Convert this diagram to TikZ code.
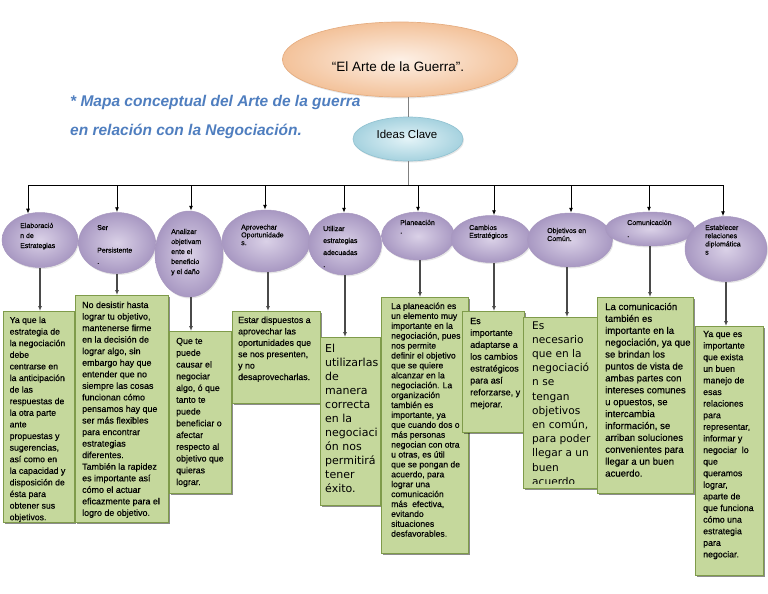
\documentclass[tikz,border=0pt]{standalone}
\usepackage{fontspec}
\setmainfont{Liberation Sans}
\newfontfamily\dejavu{DejaVu Sans}
\newfontfamily\boxf[FakeBold=0.45]{Liberation Sans}
\usetikzlibrary{shapes.geometric,arrows.meta,shadows}
\definecolor{pin}{HTML}{DAD1E7}
\definecolor{pout}{HTML}{A898C2}
\definecolor{pline}{HTML}{A898C0}
\definecolor{orin}{HTML}{FDF0E6}
\definecolor{orout}{HTML}{F3C29A}
\definecolor{orline}{HTML}{E6AE82}
\definecolor{blin}{HTML}{E3F3F7}
\definecolor{blout}{HTML}{A6D2DF}
\definecolor{blline}{HTML}{93C3D2}
\definecolor{gfill}{HTML}{C5D89C}
\definecolor{gedge}{HTML}{7F9B4A}
\definecolor{tblue}{HTML}{4F7EBF}
\definecolor{cgray}{HTML}{4A4A4A}
\newcommand\mytext[3]{\parbox[t]{200pt}{\boxf\fontsize{#1}{#2}\selectfont #3}}
\begin{document}
\begin{tikzpicture}[x=1pt,y=-1pt,
  idea/.style={ellipse, draw=pline, line width=0.5pt, inner color=pin, outer color=pout, inner sep=0pt,
    drop shadow={shadow xshift=1pt, shadow yshift=-1.5pt, opacity=0.2}},
  gbox/.style={rectangle, draw=gedge, line width=0.7pt, fill=gfill, inner sep=0pt, anchor=north west,
    drop shadow={shadow xshift=2pt, shadow yshift=-2pt, opacity=0.45, fill=black}},
  etext/.style={anchor=base west, inner sep=0pt},
  btext/.style={anchor=base west, inner sep=0pt},
  arr/.style={-{Latex[length=5pt,width=4pt]}, line width=0.9pt, draw=black},
  arrg/.style={-{Latex[length=5pt,width=4pt]}, line width=1.2pt, draw=cgray},
  hl/.style={line width=0.9pt, draw=black},
  tl/.style={line width=0.6pt, draw=gray}
]
\useasboundingbox (0,0) rectangle (768,594);

% title
\node[anchor=base west, inner sep=0pt, text=tblue, font=\bfseries\itshape\fontsize{15.5}{18}\selectfont] (title1) at (70,106) {* Mapa conceptual del Arte de la guerra};
\node[anchor=base west, inner sep=0pt, text=tblue, font=\bfseries\itshape\fontsize{15.5}{18}\selectfont] (title2) at (70,135) {en relación con la Negociación.};

% top ellipses
\node[ellipse, draw=orline, line width=0.7pt, inner color=orin, outer color=orout, minimum width=235pt, minimum height=75pt, inner sep=0pt,
  drop shadow={shadow xshift=1pt, shadow yshift=-1.5pt, opacity=0.2}] (top) at (400,59.5) {};
\node[inner sep=0pt, font=\fontsize{13.5}{16}\selectfont] (topt) at (398,67) {“El Arte de la Guerra”.};
\node[ellipse, draw=blline, line width=0.7pt, inner color=blin, outer color=blout, minimum width=110pt, minimum height=44pt, inner sep=0pt,
  drop shadow={shadow xshift=1pt, shadow yshift=-1.5pt, opacity=0.2}] (ideas) at (408,139) {};
\node[inner sep=0pt, font=\fontsize{11.5}{14}\selectfont] (ideast) at (407,134) {Ideas Clave};

% purple ellipses
\node[idea, minimum width=76pt, minimum height=55pt] (e1) at (40,240) {};
\node[idea, minimum width=77pt, minimum height=61pt] (e2) at (117,243) {};
\node[idea, minimum width=68pt, minimum height=86pt] (e3) at (189,254) {};
\node[idea, minimum width=88pt, minimum height=62pt] (e4) at (266,241) {};
\node[idea, minimum width=73pt, minimum height=62pt] (e5) at (345,244) {};
\node[idea, minimum width=73pt, minimum height=48pt] (e6) at (418,236) {};
\node[idea, minimum width=80pt, minimum height=47pt] (e7) at (491,239) {};
\node[idea, minimum width=85pt, minimum height=54pt] (e8) at (570,240) {};
\node[idea, minimum width=89pt, minimum height=34pt] (e9) at (650,229) {};
\node[idea, minimum width=82pt, minimum height=65pt] (e10) at (726,249) {};

% ellipse texts
\node[etext] (e1t) at (20,228) {\mytext{7}{10}{Elaboració\\n de\\Estrategias}};
\node[etext] (e2t) at (97,230) {\mytext{7}{11.3}{Ser\\\mbox{}\\Persistente\\.}};
\node[etext] (e3t) at (171,234) {\mytext{7}{10}{Analizar\\objetivam\\ente el\\beneficio\\y el daño}};
\node[etext] (e4t) at (241,229.5) {\mytext{7}{7.8}{Aprovechar\\Oportunidade\\s.}};
\node[etext] (e5t) at (323,231) {\mytext{7}{12}{Utilizar\\estrategias\\adecuadas\\.}};
\node[etext] (e6t) at (400,225) {\mytext{7}{8.5}{Planeación\\.}};
\node[etext] (e7t) at (469,230) {\mytext{7}{7.8}{Cambios\\Estratégicos}};
\node[etext] (e8t) at (547,233) {\mytext{7}{8}{Objetivos en\\Común.}};
\node[etext] (e9t) at (627,225) {\mytext{7}{12}{Comunicación\\.}};
\node[etext] (e10t) at (705,230) {\mytext{7}{8.2}{Establecer\\relaciones\\diplomática\\s}};

% main connectors
\coordinate (h1) at (28,185);
\coordinate (h2) at (117,185);
\coordinate (h3) at (191,185);
\coordinate (h4) at (265,185);
\coordinate (h5) at (344,185);
\coordinate (h6) at (418,185);
\coordinate (h7) at (494,185);
\coordinate (h8) at (571,185);
\coordinate (h9) at (649,185);
\coordinate (h10) at (723,185);
\draw[tl] (ideas.north |- top.south) -- (ideas.north);
\draw[tl] (ideas.south) -- (ideas.south |- h1);
\draw[hl] (h1) -- (h10);
\draw[arr] (h1) -- (h1 |- e1.115);
\draw[arr] (h2) -- (h2 |- e2.north);
\draw[arr] (h3) -- (h3 |- e3.north);
\draw[arr] (h4) -- (h4 |- e4.north);
\draw[arr] (h5) -- (h5 |- e5.north);
\draw[arr] (h6) -- (h6 |- e6.north);
\draw[arr] (h7) -- (h7 |- e7.north);
\draw[arr] (h8) -- (h8 |- e8.north);
\draw[arr] (h9) -- (h9 |- e9.north);
\draw[arr] (h10) -- (h10 |- e10.north);

% boxes
\node[gbox, minimum width=71pt, minimum height=211pt] (b1) at (3,311) {};
\node[gbox, minimum width=93pt, minimum height=227pt] (b2) at (75,295) {};
\node[gbox, minimum width=62pt, minimum height=162pt] (b3) at (169,331) {};
\node[gbox, minimum width=88pt, minimum height=92pt] (b4) at (232,311) {};
\node[gbox, minimum width=60pt, minimum height=168pt] (b5) at (320,337) {};
\node[gbox, minimum width=87pt, minimum height=256pt] (b6) at (381,297) {};
\node[gbox, minimum width=62pt, minimum height=121pt] (b7) at (462,311) {};
\node[gbox, minimum width=75pt, minimum height=171pt] (b8) at (523,317) {};
\node[gbox, minimum width=96pt, minimum height=196pt] (b9) at (597,297) {};
\node[gbox, minimum width=68pt, minimum height=249pt] (b10) at (695,326) {};

% ellipse -> box connectors
\draw[arrg] (e1.south) -- (e1.south |- b1.north);
\draw[arrg] (e2.south) -- (e2.south |- b2.north);
\draw[arrg] ([xshift=2pt]e3.south) -- ([xshift=2pt]e3.south |- b3.north);
\draw[arrg] ([xshift=2pt]e4.south) -- ([xshift=2pt]e4.south |- b4.north);
\draw[arrg] (e5.south) -- (e5.south |- b5.north);
\draw[arrg] ([xshift=2pt]e6.south) -- ([xshift=2pt]e6.south |- b6.north);
\draw[arrg] ([xshift=3pt]e7.south) -- ([xshift=3pt]e7.south |- b7.north);
\draw[arrg] ([xshift=-3pt]e8.south) -- ([xshift=-3pt]e8.south |- b8.north);
\draw[arrg] (e9.south) -- (e9.south |- b9.north);
\draw[arrg] (e10.south) -- (e10.south |- b10.north);

% box texts
\node[btext] (t1) at (9.5,323) {\mytext{8.7}{11.6}{Ya que la\\estrategia de\\la negociación\\debe\\centrarse en\\la anticipación\\de las\\respuestas de\\la otra parte\\ante\\propuestas y\\sugerencias,\\así como en\\la capacidad y\\disposición de\\ésta para\\obtener sus\\objetivos.}};
\node[btext] (t2) at (82,308) {\mytext{8.9}{11.55}{No desistir hasta\\lograr tu objetivo,\\mantenerse firme\\en la decisión de\\lograr algo, sin\\embargo hay que\\entender que no\\siempre las cosas\\funcionan cómo\\pensamos hay que\\ser más flexibles\\para encontrar\\estrategias\\diferentes.\\También la rapidez\\es importante así\\cómo el actuar\\eficazmente para el\\logro de objetivo.}};
\node[btext] (t3) at (176,344) {\mytext{8.8}{11.75}{Que te\\puede\\causar el\\negociar\\algo, ó que\\tanto te\\puede\\beneficiar o\\afectar\\respecto al\\objetivo que\\quieras\\lograr.}};
\node[btext] (t4) at (238,323) {\mytext{8.8}{11.4}{Estar dispuestos a\\aprovechar las\\oportunidades que\\se nos presenten,\\y no\\desaprovecharlas.}};
\node[btext] (t5) at (325,352) {\mytext{11}{14}{\dejavu El\\utilizarlas\\de\\manera\\correcta\\en la\\negociaci\\ón nos\\permitirá\\tener\\éxito.}};
\node[btext] (t6) at (391,309) {\mytext{8.6}{9.9}{La planeación es\\un elemento muy\\importante en la\\negociación, pues\\nos permite\\definir el objetivo\\que se quiere\\alcanzar en la\\negociación. La\\organización\\también es\\importante, ya\\que cuando dos o\\más personas\\negocian con otra\\u otras, es útil\\que se pongan de\\acuerdo, para\\lograr una\\comunicación\\más\ \ efectiva,\\evitando\\situaciones\\desfavorables.}};
\node[btext] (t7) at (470,324) {\mytext{9}{11.9}{Es\\importante\\adaptarse a\\los cambios\\estratégicos\\para así\\reforzarse, y\\mejorar.}};
\begin{scope}
\clip (523,317) rectangle (598,483.5);
\node[btext] (t8) at (532,329) {\mytext{10.6}{14.2}{\dejavu Es\\necesario\\que en la\\negociació\\n se\\tengan\\objetivos\\en común,\\para poder\\llegar a un\\buen\\acuerdo}};
\end{scope}
\node[btext] (t9) at (605,310) {\mytext{9.6}{11.9}{La comunicación\\también es\\importante en la\\negociación, ya que\\se brindan los\\puntos de vista de\\ambas partes con\\intereses comunes\\u opuestos, se\\intercambia\\información, se\\arriban soluciones\\convenientes para\\llegar a un buen\\acuerdo.}};
\node[btext] (t10) at (703,337) {\mytext{8.8}{11.6}{Ya que es\\importante\\que exista\\un buen\\manejo de\\esas\\relaciones\\para\\representar,\\informar y\\negociar\ \ lo\\que\\queramos\\lograr,\\aparte de\\que funciona\\cómo una\\estrategia\\para\\negociar.}};
\end{tikzpicture}
\end{document}
